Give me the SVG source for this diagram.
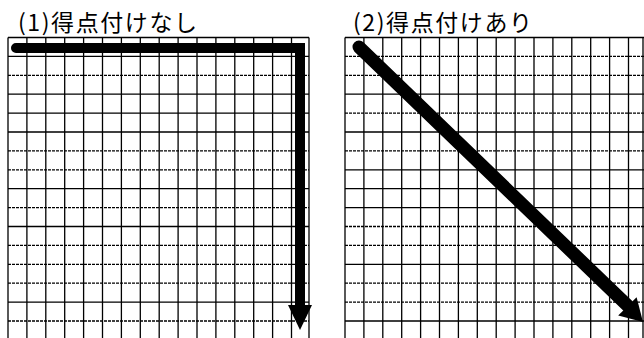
<svg xmlns="http://www.w3.org/2000/svg" width="644" height="338" viewBox="0 0 644 338">
<style>
.bg{fill:#fff}
.title{font-family:"Noto Sans CJK JP","Noto Sans CJK SC",sans-serif;font-size:23px;font-weight:400;fill:#000}
.v{stroke:#000;stroke-width:1.3;fill:none}
.hs{stroke:#000;stroke-width:1.3;fill:none}
.hd{stroke:#000;stroke-width:1.3;fill:none;stroke-dasharray:3 1}
.shaft{stroke:#000;fill:none;stroke-linecap:round;stroke-linejoin:miter}
.head{fill:#000}
</style>
<rect class="bg" x="0" y="0" width="644" height="338"/>
<g id="panel1">
<text class="title" x="18" y="31" textLength="179" lengthAdjust="spacing">(1)得点付けなし</text>
<path class="v" d="M8 37.5V338M26.9 37.5V338M45.8 37.5V338M64.7 37.5V338M83.6 37.5V338M102.5 37.5V338M121.4 37.5V338M140.3 37.5V338M159.2 37.5V338M178.1 37.5V338M197 37.5V338M215.9 37.5V338M234.8 37.5V338M253.7 37.5V338M272.6 37.5V338M291.5 37.5V338M309 37.5V338"/>
<path class="hs" d="M8 37.5H309M8 56.4H309M8 94.2H309M8 113.1H309M8 132H309M8 188.7H309M8 226.5H309M8 302.1H309"/>
<path class="hd" d="M8 75.3H309M8 150.9H309M8 169.8H309M8 207.6H309M8 245.4H309M8 264.3H309M8 283.2H309M8 321H309"/>
</g>
<g id="panel2">
<text class="title" x="353" y="31" textLength="179" lengthAdjust="spacing">(2)得点付けあり</text>
<path class="v" d="M345 37.5V338M363.9 37.5V338M382.8 37.5V338M401.7 37.5V338M420.6 37.5V338M439.5 37.5V338M458.4 37.5V338M477.3 37.5V338M496.2 37.5V338M515.1 37.5V338M534 37.5V338M552.9 37.5V338M571.8 37.5V338M590.7 37.5V338M609.6 37.5V338M628.5 37.5V338M643 37.5V338"/>
<path class="hs" d="M345 37.5H644M345 94.2H644M345 132H644M345 169.8H644M345 188.7H644M345 207.6H644M345 264.3H644M345 321H644"/>
<path class="hd" d="M345 56.4H644M345 75.3H644M345 113.1H644M345 150.9H644M345 226.5H644M345 245.4H644M345 283.2H644M345 302.1H644"/>
</g>
<g id="connectors">
<path class="shaft" stroke-width="10" d="M16 48H300V306"/>
<polygon class="head" points="288,305 312,305 300,330"/>
<path class="shaft" stroke-width="13" d="M359 47L628 306"/>
<polygon class="head" points="643,322 618.2,315.6 636.6,297.2"/>
</g>
</svg>
